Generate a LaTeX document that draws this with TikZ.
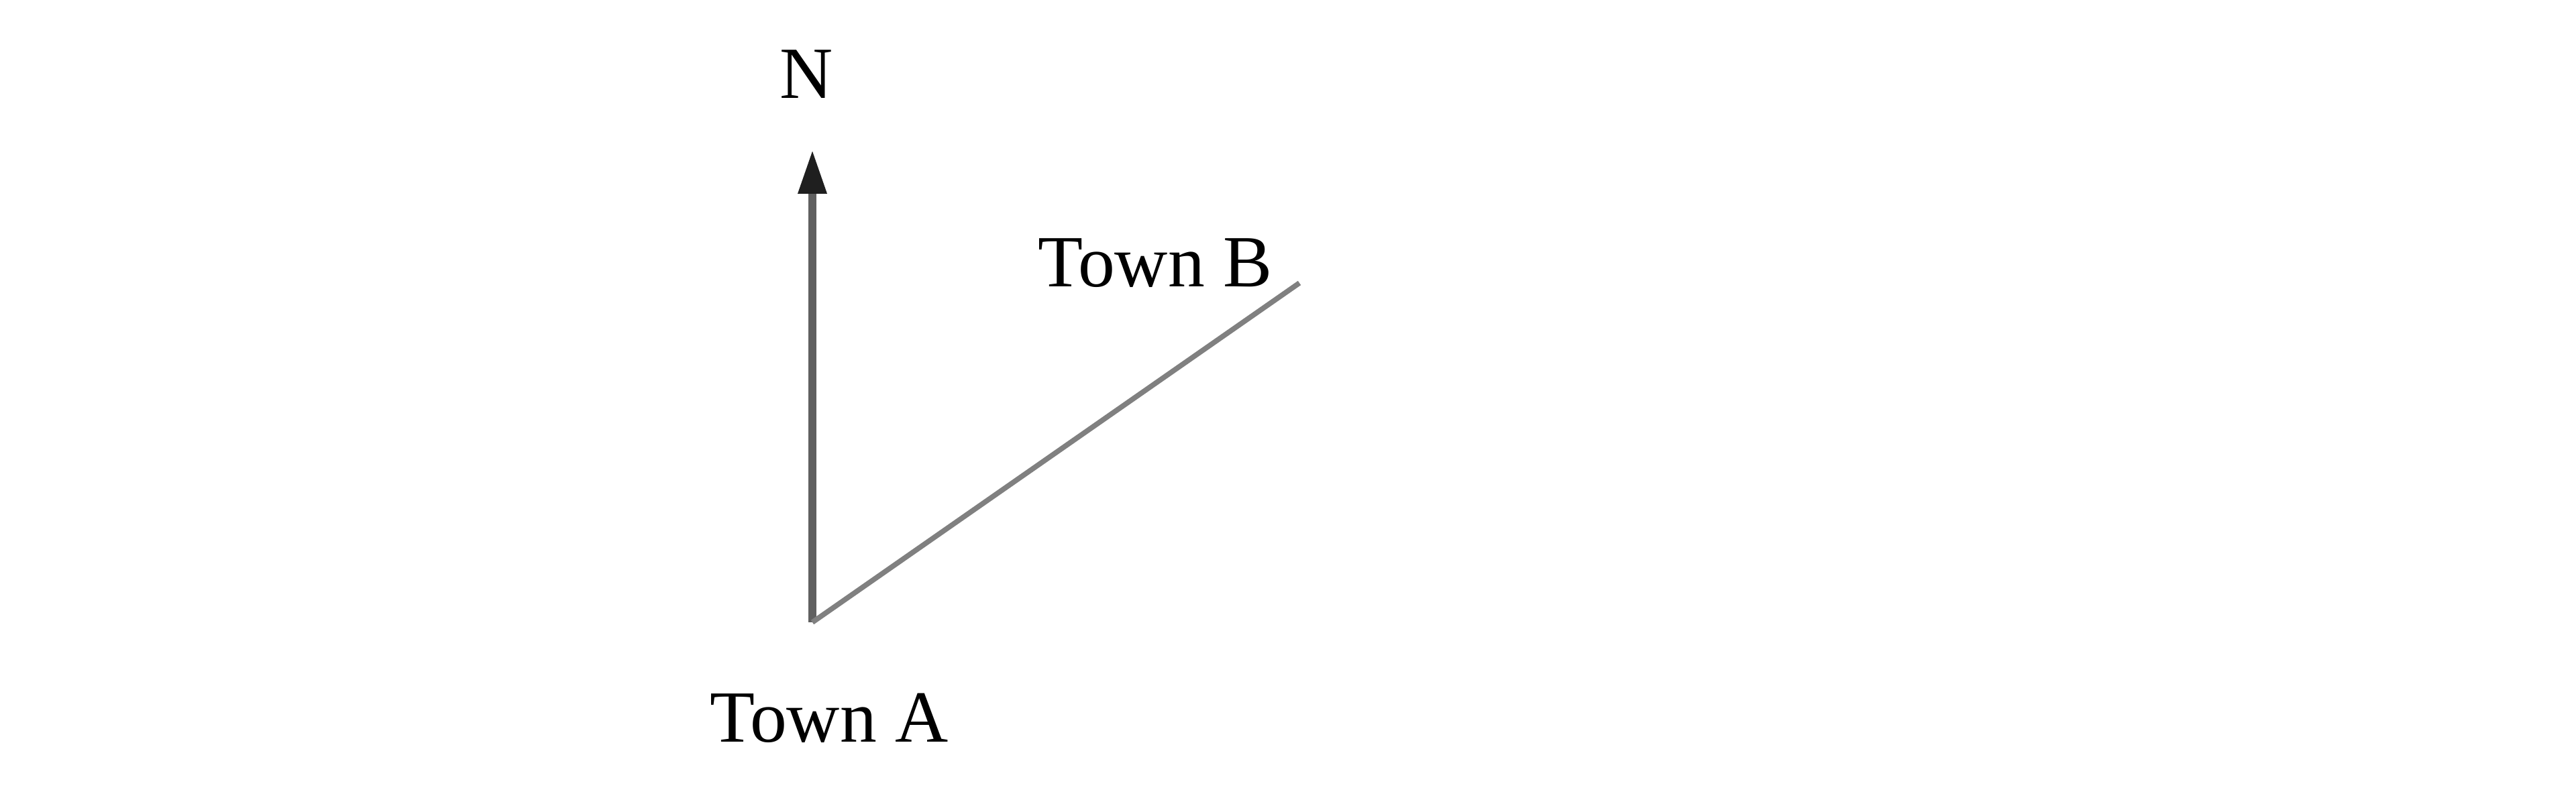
\documentclass[tikz,border=0pt]{standalone}
\usepackage{fontspec}
\setmainfont{Liberation Serif}
\usetikzlibrary{arrows.meta}
\definecolor{shaftgray}{HTML}{606060}
\definecolor{routegray}{HTML}{808080}
\tikzset{
	townlabel/.style={anchor=base, inner sep=0pt, font=\fontsize{15.6}{18}\selectfont},
	northarrow/.style={line width=1.8pt, color=shaftgray, -{Triangle[width=0.2cm, length=0.33cm, color=black!88]}},
	route/.style={line width=1.1pt, color=routegray, line cap=butt}
}

\begin{document}
\begin{tikzpicture}
			%%%%% START %%%%%
			
			\useasboundingbox (0, 0) rectangle (19.2, 5.975);
			
			\coordinate (townA) at (6.055, 1.335);
			\coordinate (northtip) at (6.055, 4.86);
			\coordinate (townB) at (9.685, 3.865);
			
			\draw[northarrow] (townA) -- (northtip);
			\draw[route] (townA) -- (townB);
			
			\node[townlabel] (labelN) at (6.01, 5.24) {N};
			\node[townlabel] (labelB) at (8.61, 3.835) {Town B};
			\node[townlabel] (labelA) at (6.18, 0.44) {Town A};
			
			%%%%% END %%%%%
		\end{tikzpicture}
\end{document}
